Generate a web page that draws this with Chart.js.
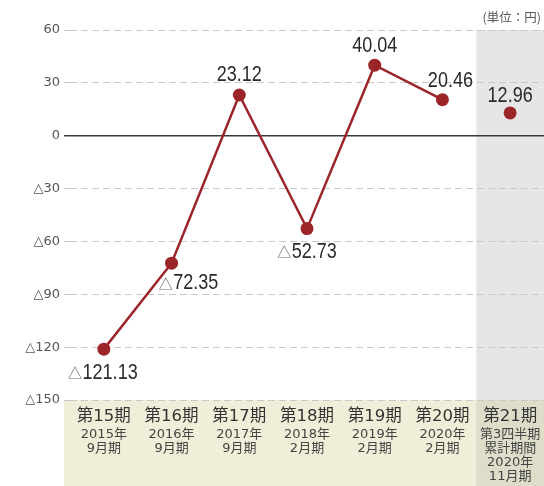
<!DOCTYPE html>
<html>
<head>
<meta charset="utf-8">
<script src="https://cdn.jsdelivr.net/npm/chart.js@4"></script>
<style>
  html, body { margin: 0; padding: 0; background: #ffffff; }
  canvas { display: block; }
</style>
</head>
<body>
<canvas id="c" width="544" height="486"></canvas>
<script>
// ---- data ----
const categories = ['第15期', '第16期', '第17期', '第18期', '第19期', '第20期', '第21期'];
const subLabels = [
  ['2015年', '9月期'],
  ['2016年', '9月期'],
  ['2017年', '9月期'],
  ['2018年', '2月期'],
  ['2019年', '2月期'],
  ['2020年', '2月期'],
  ['第3四半期', '累計期間', '2020年', '11月期']
];
const values = [-121.13, -72.35, 23.12, -52.73, 40.04, 20.46, 12.96];
const yMin = -150;
const yMax = 60;
const yStep = 30;
const unitLabel = '(単位：円)';

// ---- styles (label placement relative to point) ----
const labelOffsets = [[-1, 23], [17, 19], [0, -21], [0, 22], [0, -20], [8, -20], [0, -18]];
const RED = '#9b2529';
const CONDENSE = 0.82;

function fmt(v) {
  const s = Math.abs(v).toFixed(2);
  return v < 0 ? ['△', s] : ['', s];
}

const bgPlugin = {
  id: 'bg',
  beforeDraw(chart) {
    const { ctx, chartArea, scales } = chart;
    const x = scales.x;
    const half = (x.getPixelForValue(1) - x.getPixelForValue(0)) / 2;
    const bandLeft = x.getPixelForValue(6) - half;
    ctx.save();
    ctx.fillStyle = '#f0eed9';
    ctx.fillRect(chartArea.left - 6, chartArea.bottom, chart.width, chart.height - chartArea.bottom);
    ctx.fillStyle = '#e6e6e8';
    ctx.fillRect(bandLeft, chartArea.top, chart.width - bandLeft, chartArea.bottom - chartArea.top);
    ctx.fillStyle = '#deddca';
    ctx.fillRect(bandLeft, chartArea.bottom, chart.width - bandLeft, chart.height - chartArea.bottom);
    ctx.restore();
  }
};

const textPlugin = {
  id: 'texts',
  afterDatasetsDraw(chart) {
    const { ctx, scales } = chart;
    const meta = chart.getDatasetMeta(0);
    ctx.save();
    // data labels
    meta.data.forEach((pt, i) => {
      const [tri, num] = fmt(values[i]);
      const off = labelOffsets[i];
      const cx = pt.x + off[0];
      const cy = pt.y + off[1];
      const triFont = '14px "Noto Sans CJK JP"';
      const numFont = '22px "Liberation Sans", sans-serif';
      ctx.textBaseline = 'middle';
      ctx.textAlign = 'left';
      ctx.font = triFont;
      const tw = tri ? ctx.measureText(tri).width + 0.5 : 0;
      ctx.font = numFont;
      const nw = ctx.measureText(num).width * CONDENSE;
      let sx = cx - (tw + nw) / 2;
      if (tri) {
        ctx.font = triFont;
        ctx.fillStyle = '#666666';
        ctx.fillText(tri, sx, cy + 1);
        sx += tw;
      }
      ctx.save();
      ctx.translate(sx, cy + 1);
      ctx.scale(CONDENSE, 1);
      ctx.font = numFont;
      ctx.fillStyle = '#2a2a2a';
      ctx.fillText(num, 0, 0);
      ctx.restore();
    });
    // category labels
    const x = scales.x;
    ctx.textAlign = 'center';
    ctx.textBaseline = 'middle';
    categories.forEach((c, i) => {
      const px = x.getPixelForValue(i);
      ctx.font = '16.5px "DejaVu Sans", "Noto Sans CJK JP"';
      ctx.fillStyle = '#333333';
      ctx.fillText(c, px, 417);
      ctx.font = '13px "DejaVu Sans", "Noto Sans CJK JP"';
      ctx.fillStyle = '#444444';
      subLabels[i].forEach((s, j) => {
        ctx.fillText(s, px, 434.5 + j * 14);
      });
    });
    // unit label
    ctx.textAlign = 'right';
    ctx.font = '12.5px "Noto Sans CJK JP"';
    ctx.fillStyle = '#555555';
    ctx.fillText(unitLabel, 541, 17);
    ctx.restore();
  }
};

new Chart(document.getElementById('c'), {
  type: 'line',
  data: {
    labels: categories,
    datasets: [{
      data: values,
      borderColor: RED,
      backgroundColor: RED,
      borderWidth: 2.5,
      pointRadius: 6.5,
      pointHoverRadius: 6.5,
      pointBorderWidth: 0,
      pointBackgroundColor: RED,
      tension: 0,
      clip: false,
      segment: {
        borderColor: ctx => ctx.p1DataIndex === 6 ? 'rgba(0,0,0,0)' : RED
      }
    }]
  },
  options: {
    responsive: false,
    animation: false,
    devicePixelRatio: 1,
    layout: { autoPadding: false, padding: { top: 30, bottom: 86, left: 0, right: -2 } },
    plugins: { legend: { display: false }, tooltip: { enabled: false } },
    scales: {
      x: {
        display: false,
        offset: true
      },
      y: {
        min: yMin,
        max: yMax,
        afterFit(scale) { scale.width = 70; },
        ticks: {
          stepSize: yStep,
          padding: 4,
          color: '#555555',
          font: { family: '"DejaVu Sans", sans-serif', size: 13 },
          callback: v => v < 0 ? '△' + (-v) : String(v)
        },
        grid: {
          color: ctx => (ctx.tick && ctx.tick.value === 0) ? '#3a3a3a' : '#c8c8c8',
          lineWidth: ctx => (ctx.tick && ctx.tick.value === 0) ? 1.5 : 1,
          tickLength: 6,
          tickColor: ctx => (ctx.tick && ctx.tick.value === 0) ? '#3a3a3a' : '#c8c8c8',
          tickBorderDash: ctx => (ctx.tick && ctx.tick.value === 0) ? [] : [7, 4]
        },
        border: {
          display: false,
          dash: ctx => (ctx.tick && ctx.tick.value === 0) ? [] : [7, 4]
        }
      }
    }
  },
  plugins: [bgPlugin, textPlugin]
});
</script>
</body>
</html>
